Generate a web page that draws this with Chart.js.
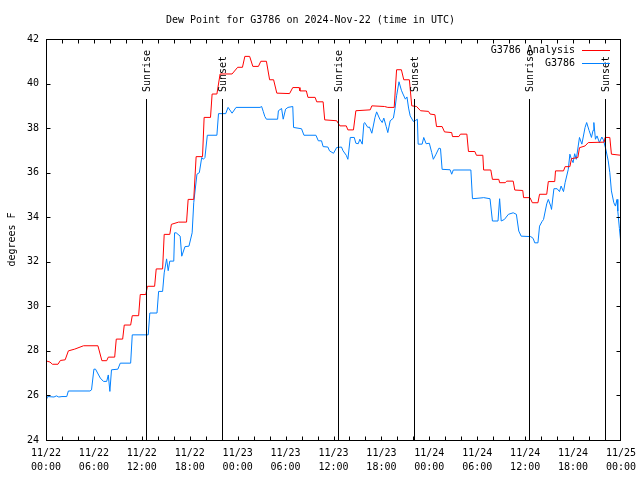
<!DOCTYPE html>
<html>
<head>
<meta charset="UTF-8">
<title>Dew Point G3786</title>
<script src="https://cdn.jsdelivr.net/npm/chart.js@4.4.1/dist/chart.umd.min.js"></script>
<style>
  body{margin:0; background:#fff;}
  canvas{display:block;}
</style>
</head>
<body>
<canvas id="dewChart" width="640" height="480"></canvas>
<script>
// hours since 11/22 00:00 UTC, degrees F
const analysisPts = [
  [0,27.55],[0.5,27.5],[0.8,27.4],[1.5,27.4],[1.8,27.57],[2.4,27.6],[2.8,28.0],[3.6,28.08],[4.7,28.23],[6.5,28.23],
  [7.0,27.56],[7.6,27.56],[7.8,27.72],[8.6,27.72],[8.8,28.53],[9.6,28.53],[9.8,29.16],[10.6,29.16],[10.8,29.58],[11.6,29.58],
  [11.8,30.53],[12.5,30.53],[12.7,30.9],[13.6,30.9],[13.8,31.68],[14.6,31.68],[14.8,33.23],[15.5,33.23],[15.7,33.68],[16.6,33.78],
  [17.6,33.78],[17.8,34.8],[18.5,34.8],[18.8,36.72],[19.6,36.72],[19.8,38.48],[20.6,38.48],[20.8,39.53],[21.4,39.53],[21.8,40.43],
  [23.3,40.43],[24.0,40.73],[24.6,40.73],[24.9,41.22],[25.5,41.22],[25.9,40.77],[26.6,40.77],[26.9,41.0],[27.6,41.0],[28.0,40.17],
  [28.5,40.17],[28.9,39.57],[30.5,39.55],[30.9,39.82],[31.7,39.82],[31.8,39.67],[32.6,39.67],[32.8,39.38],[33.7,39.38],[33.9,39.18],
  [34.7,39.18],[34.9,38.37],[36.4,38.33],[36.8,38.1],[37.6,38.1],[37.8,37.92],[38.5,37.92],[38.8,38.78],[40.6,38.82],[40.8,39.0],
  [42.4,38.97],[42.8,38.93],[43.6,38.93],[43.9,40.62],[44.5,40.62],[44.8,40.17],[45.5,40.17],[45.8,39.0],[46.4,38.97],[46.9,38.78],
  [47.9,38.75],[48.1,38.63],[48.7,38.6],[48.9,38.07],[49.6,38.07],[49.9,37.83],[50.8,37.8],[50.9,37.62],[51.7,37.62],[51.9,37.73],
  [52.7,37.73],[52.9,36.95],[53.7,36.95],[53.9,36.78],[54.7,36.78],[54.8,36.12],[55.7,36.12],[55.9,35.7],[56.7,35.7],[56.8,35.55],
  [57.5,35.55],[57.7,35.62],[58.5,35.62],[58.7,35.22],[59.7,35.2],[59.8,34.88],[60.6,34.88],[60.9,34.65],[61.6,34.65],[61.8,35.03],
  [62.7,35.03],[62.9,35.6],[63.7,35.6],[63.8,36.08],[64.8,36.08],[65.0,36.27],[65.6,36.27],[65.8,36.63],[66.6,36.68],[66.8,37.12],
  [67.5,37.2],[67.9,37.35],[69.9,37.37],[70.0,37.58],[70.6,37.58],[70.8,36.83],[72,36.78]
];
const obsPts = [
  [0,25.77],[0.2,25.95],[1.0,25.93],[1.3,25.98],[1.6,25.93],[2.0,25.95],[2.6,25.95],[2.8,26.2],[5.5,26.2],[5.7,26.25],
  [6.0,27.18],[6.2,27.18],[6.8,26.78],[7.2,26.63],[7.6,26.63],[7.8,26.92],[8.0,26.18],[8.2,27.15],[9.0,27.18],[9.3,27.45],
  [10.6,27.45],[10.8,28.72],[12.8,28.72],[13.0,29.7],[13.9,29.7],[14.1,30.67],[14.6,30.67],[14.8,31.5],[15.1,32.13],[15.3,31.6],
  [15.5,32.03],[16.0,32.03],[16.1,33.3],[16.3,33.3],[16.8,33.15],[17.0,32.25],[17.4,32.68],[17.9,32.7],[18.3,33.3],[18.5,34.65],
  [18.9,35.93],[19.2,36.0],[19.5,36.68],[19.7,36.6],[19.9,36.68],[20.2,37.68],[21.4,37.68],[21.6,38.65],[22.5,38.65],[22.8,38.93],
  [23.3,38.67],[23.8,38.93],[26.8,38.93],[27.0,38.97],[27.2,38.75],[27.4,38.52],[27.6,38.4],[29.0,38.4],[29.1,38.78],[29.5,38.88],
  [29.7,38.4],[30.0,38.85],[30.3,38.93],[30.9,38.97],[31.0,38.03],[32.0,37.97],[32.3,37.68],[33.8,37.68],[34.1,37.43],[34.5,37.43],
  [34.7,37.17],[35.3,37.15],[35.5,36.98],[36.0,36.87],[36.4,37.13],[37.0,37.15],[37.2,36.98],[37.6,36.78],[37.8,36.6],[38.1,37.58],
  [38.6,37.58],[38.8,37.32],[39.1,37.3],[39.3,37.5],[39.6,37.28],[39.8,38.2],[39.9,38.25],[40.3,38.03],[40.5,38.05],[40.8,37.77],
  [41.2,38.48],[41.4,38.73],[41.8,38.4],[42.1,38.25],[42.3,38.45],[42.6,38.07],[42.8,37.8],[43.1,38.33],[43.5,38.45],[43.7,38.88],
  [43.9,39.45],[44.2,40.08],[44.5,39.7],[44.7,39.53],[45.0,39.3],[45.2,39.4],[45.4,38.9],[45.6,38.55],[46.0,38.3],[46.3,38.35],
  [46.5,38.4],[46.6,37.28],[47.1,37.28],[47.3,37.58],[47.6,37.3],[48.0,37.32],[48.3,36.9],[48.5,36.6],[48.8,36.8],[49.2,37.1],
  [49.4,37.08],[49.6,36.15],[50.6,36.13],[50.8,35.93],[51.0,36.12],[53.2,36.12],[53.4,34.83],[54.6,34.87],[54.8,34.88],[55.6,34.83],
  [55.9,33.83],[56.6,33.83],[56.8,34.83],[57.0,33.83],[57.4,33.9],[57.9,34.13],[58.5,34.2],[58.9,34.13],[59.2,33.38],[59.5,33.15],
  [60.7,33.13],[61.0,33.05],[61.2,32.85],[61.6,32.85],[61.8,33.6],[62.1,33.8],[62.3,33.9],[62.7,34.6],[62.9,34.8],[63.2,34.5],
  [63.3,34.35],[63.6,35.28],[64.0,35.28],[64.3,35.15],[64.5,35.4],[64.8,35.15],[65.0,35.55],[65.4,36.15],[65.6,36.83],[65.8,36.6],
  [66.0,36.45],[66.2,36.85],[66.4,36.6],[66.8,37.58],[67.1,37.28],[67.5,38.03],[67.7,38.25],[68.0,37.9],[68.3,37.58],[68.5,37.9],
  [68.6,38.25],[68.8,37.5],[69.0,37.65],[69.3,37.35],[69.6,37.6],[69.8,37.47],[70.1,37.05],[70.4,36.53],[70.6,36.0],[70.8,35.18],
  [71.1,34.65],[71.3,34.5],[71.5,34.8],[71.6,34.28],[71.8,33.5],[72.0,32.78]
];
const eventHours  = [12.55, 22.0, 36.55, 46.05, 60.45, 69.97];
const eventLabels = ['Sunrise','Sunset','Sunrise','Sunset','Sunrise','Sunset'];
const xTickLabels = [
  ['11/22','00:00'],['11/22','06:00'],['11/22','12:00'],['11/22','18:00'],
  ['11/23','00:00'],['11/23','06:00'],['11/23','12:00'],['11/23','18:00'],
  ['11/24','00:00'],['11/24','06:00'],['11/24','12:00'],['11/24','18:00'],
  ['11/25','00:00']
];

const FONT = '10px "DejaVu Sans Mono", monospace';
Chart.defaults.font.family = '"DejaVu Sans Mono", monospace';
Chart.defaults.font.size = 10;
Chart.defaults.color = '#000';

// gnuplot style frame, inward ticks, sunrise/sunset markers and legend
const gnuplotLook = {
  id: 'gnuplotLook',
  afterDatasetsDraw(chart) {
    const ctx = chart.ctx;
    const a = chart.chartArea;
    const xs = chart.scales.x, ys = chart.scales.y;
    ctx.save();
    ctx.strokeStyle = '#000';
    ctx.lineWidth = 1;

    // sun events
    ctx.font = FONT;
    ctx.fillStyle = '#000';
    eventHours.forEach(function(h, i){
      const px = Math.round(xs.getPixelForValue(h)) + 0.5;
      ctx.beginPath();
      ctx.moveTo(px, 99);
      ctx.lineTo(px, a.bottom);
      ctx.stroke();
      ctx.save();
      ctx.translate(px + 1, 92);
      ctx.rotate(-Math.PI / 2);
      ctx.textAlign = 'left';
      ctx.textBaseline = 'middle';
      ctx.fillText(eventLabels[i], 0, 0);
      ctx.restore();
    });

    // frame
    const L = Math.round(a.left) + 0.5, R = Math.round(a.right) - 0.5;
    const T = Math.round(a.top) + 0.5, B = Math.round(a.bottom) + 0.5;
    ctx.strokeRect(L, T, R - L, B - T);

    // ticks
    const tl = 4;
    ctx.beginPath();
    for (let h = 2; h < 72; h += 2) {
      const px = Math.round(xs.getPixelForValue(h)) + 0.5;
      ctx.moveTo(px, B); ctx.lineTo(px, B - tl);
      ctx.moveTo(px, T); ctx.lineTo(px, T + tl);
    }
    ys.ticks.forEach(function(t){
      if (t.value === ys.min || t.value === ys.max) return;
      const py = Math.round(ys.getPixelForValue(t.value)) + 0.5;
      ctx.moveTo(L, py); ctx.lineTo(L + tl, py);
      ctx.moveTo(R, py); ctx.lineTo(R - tl, py);
    });
    ctx.stroke();

    // legend
    ctx.textAlign = 'right';
    ctx.textBaseline = 'middle';
    chart.data.datasets.forEach(function(ds, i){
      const ly = 50.5 + i * 13;
      ctx.fillStyle = '#000';
      ctx.fillText(ds.label, 575, ly);
      ctx.strokeStyle = ds.borderColor;
      ctx.beginPath();
      ctx.moveTo(582, ly); ctx.lineTo(610, ly);
      ctx.stroke();
    });
    ctx.restore();
  }
};

function toXY(pts){ return pts.map(function(p){ return {x: p[0], y: p[1]}; }); }

new Chart(document.getElementById('dewChart'), {
  type: 'line',
  data: {
    datasets: [
      { label: 'G3786 Analysis', data: toXY(analysisPts), borderColor: '#ff0000', borderWidth: 1, pointRadius: 0, tension: 0 },
      { label: 'G3786', data: toXY(obsPts), borderColor: '#0080ff', borderWidth: 1, pointRadius: 0, tension: 0 }
    ]
  },
  options: {
    responsive: false,
    animation: false,
    layout: { padding: { left: 0, right: 19, top: 0, bottom: 0 } },
    plugins: {
      legend: { display: false },
      tooltip: { enabled: false },
      title: {
        display: true,
        text: 'Dew Point for G3786 on 2024-Nov-22 (time in UTC)',
        font: { size: 10, weight: 'normal' },
        color: '#000',
        padding: { top: 14, bottom: 13 }
      }
    },
    scales: {
      x: {
        type: 'linear',
        min: 0, max: 72,
        grid: { display: false, drawTicks: false },
        border: { display: false },
        afterFit: function(s){ s.height = 40; s.paddingLeft = 0; s.paddingRight = 0; },
        ticks: {
          stepSize: 6,
          autoSkip: false,
          maxRotation: 0,
          padding: 6,
          font: { size: 10, lineHeight: 1.4 },
          callback: function(v){ return xTickLabels[Math.round(v / 6)]; }
        }
      },
      y: {
        min: 24, max: 42,
        grid: { display: false, drawTicks: false },
        border: { display: false },
        afterFit: function(s){ s.width = 46; s.paddingTop = 0; s.paddingBottom = 0; },
        title: { display: true, text: 'degrees F', padding: { top: 6, bottom: 0 } },
        ticks: { stepSize: 2, padding: 7 }
      }
    }
  },
  plugins: [gnuplotLook]
});
</script>
</body>
</html>
